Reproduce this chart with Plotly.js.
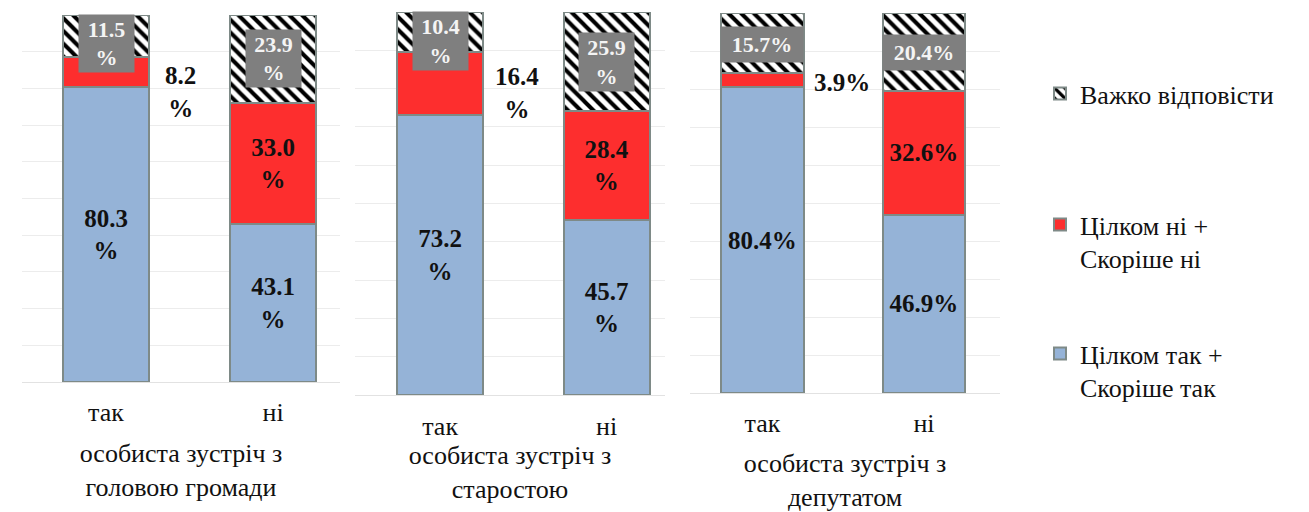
<!DOCTYPE html>
<html>
<head>
<meta charset="utf-8">
<script src="https://cdn.plot.ly/plotly-3.0.1.min.js"></script>
<style>html,body{margin:0;padding:0;background:#fff;}#chart{width:1309px;height:512px;}</style>
</head>
<body>
<div id="chart"></div>
<script>
// ---- data ----
const categories = ['так', 'ні'];
const panelTitles = ['особиста зустріч з<br>головою громади', 'особиста зустріч з<br>старостою', 'особиста зустріч з<br>депутатом'];
const seriesNames = ['Цілком так +<br>Скоріше так', 'Цілком ні +<br>Скоріше ні', 'Важко відповісти'];
const agreeHead = [80.3, 43.1];
const disagreeHead = [8.2, 33.0];
const hardHead = [11.5, 23.9];
const agreeElder = [73.2, 45.7];
const disagreeElder = [16.4, 28.4];
const hardElder = [10.4, 25.9];
const agreeDeputy = [80.4, 46.9];
const disagreeDeputy = [3.9, 32.6];
const hardDeputy = [15.7, 20.4];

const panels = [
  {agree: agreeHead, disagree: disagreeHead, hard: hardHead},
  {agree: agreeElder, disagree: disagreeElder, hard: hardElder},
  {agree: agreeDeputy, disagree: disagreeDeputy, hard: hardDeputy}
];

// ---- styling ----
const SERIF = 'Liberation Serif';
const BLUE = '#95b3d7', RED = '#fd2e2e', OUTLINE = '#7e8a87', BOXGRAY = '#7f7f7f';
const sep = ['<br>', '<br>', ''];
const barWidth = [0.52, 0.517, 0.508];
const xDomains = [[22/1309, 340/1309], [355/1309, 665/1309], [690/1309, 1000/1309]];
const xRanges = [[-0.503, 1.401], [-0.511, 1.351], [-0.449, 1.471]];
const yDomains = [[1-382/512, 1-15/512], [1-395/512, 1-12/512], [1-393/512, 1-13/512]];
const tickStandoff = [7, 8, 7];
const titleStandoff = [17, 3, 20];
const outsideShift = [[74, -20], [77, -10], [80, -2]];
const boxSize = [[55, 57], [55, 58], [82, 35]];
const boxYShift = [[-7, 0], [-9, 0], [-2, 0]];

const traces = [];
const annotations = [];
const legendBase = {x: 1040/1309, xanchor: 'left', yanchor: 'top', valign: 'top', bgcolor: 'rgba(0,0,0,0)', font: {family: SERIF, size: 26, color: '#111'}};
const layout = {
  width: 1309, height: 512, autosize: false,
  margin: {l: 0, r: 0, t: 0, b: 0},
  paper_bgcolor: '#ffffff', plot_bgcolor: '#ffffff',
  barmode: 'stack',
  font: {family: SERIF, size: 26, color: '#111'},
  legend: Object.assign({}, legendBase, {y: 1-70/512}),
  legend2: Object.assign({}, legendBase, {y: 1-201/512}),
  legend3: Object.assign({}, legendBase, {y: 1-330/512}),
  showlegend: true
};

panels.forEach((p, i) => {
  const sfx = i === 0 ? '' : String(i + 1);
  const xa = 'x' + sfx, ya = 'y' + sfx;
  const common = {
    type: 'bar', x: categories, xaxis: xa, yaxis: ya, width: barWidth[i],
    textposition: 'inside', insidetextanchor: 'middle', textangle: 0, constraintext: 'none',
    hoverinfo: 'skip', showlegend: i === 0
  };
  traces.push(Object.assign({}, common, {
    name: seriesNames[0], y: p.agree, legend: 'legend3', legendgroup: 'agree',
    marker: {color: BLUE, line: {color: OUTLINE, width: 2}},
    texttemplate: '%{y:.1f}' + sep[i] + '%',
    insidetextfont: {family: SERIF, size: 25, color: '#111', weight: 'bold'}
  }));
  traces.push(Object.assign({}, common, {
    name: seriesNames[1], y: p.disagree, legend: 'legend2', legendgroup: 'disagree',
    marker: {color: RED, line: {color: OUTLINE, width: 2}},
    texttemplate: [' ', '%{y:.1f}' + sep[i] + '%'],
    insidetextfont: {family: SERIF, size: 25, color: '#111', weight: 'bold'}
  }));
  traces.push(Object.assign({}, common, {
    name: seriesNames[2], y: p.hard, legend: 'legend', legendgroup: 'hard',
    marker: {color: '#ffffff', line: {color: OUTLINE, width: 2},
      pattern: {shape: '\\', fgcolor: '#000000', bgcolor: '#ffffff', size: 9, solidity: 0.45, fillmode: 'replace'}},
    texttemplate: ' '
  }));

  layout['xaxis' + sfx] = {
    domain: xDomains[i], range: xRanges[i], anchor: ya, type: 'category',
    showgrid: false, zeroline: false, showline: true, linecolor: '#e2e2e2', linewidth: 1,
    ticks: '', ticklabelstandoff: tickStandoff[i],
    tickfont: {family: SERIF, size: 26, color: '#111'},
    title: {text: panelTitles[i], standoff: titleStandoff[i], font: {family: SERIF, size: 26, color: '#111'}},
    fixedrange: true
  };
  layout['yaxis' + sfx] = {
    domain: yDomains[i], range: [0, 100], anchor: xa,
    showgrid: true, gridcolor: '#ececec', gridwidth: 1, dtick: 10,
    zeroline: false, showline: false, showticklabels: false, ticks: '', fixedrange: true
  };

  // label of the short red segment, placed beside the "так" bar
  annotations.push({
    xref: xa, yref: ya, x: categories[0], y: p.agree[0] + p.disagree[0] / 2,
    text: p.disagree[0].toFixed(1) + sep[i] + '%', showarrow: false,
    xshift: outsideShift[i][0], yshift: outsideShift[i][1],
    font: {family: SERIF, size: 25, color: '#111', weight: 'bold'}
  });
  // grey boxed labels of the hatched segments
  categories.forEach((c, k) => {
    annotations.push({
      xref: xa, yref: ya, x: c, y: p.agree[k] + p.disagree[k] + p.hard[k] / 2,
      text: p.hard[k].toFixed(1) + sep[i] + '%', showarrow: false,
      yshift: boxYShift[i][k],
      bgcolor: BOXGRAY, width: boxSize[i][0], height: boxSize[i][1], borderpad: 0,
      font: {family: SERIF, size: 22, color: '#f4f4f4', weight: 'bold'}
    });
  });
});
layout.annotations = annotations;

Plotly.newPlot('chart', traces, layout, {displayModeBar: false, staticPlot: true});
</script>
</body>
</html>
